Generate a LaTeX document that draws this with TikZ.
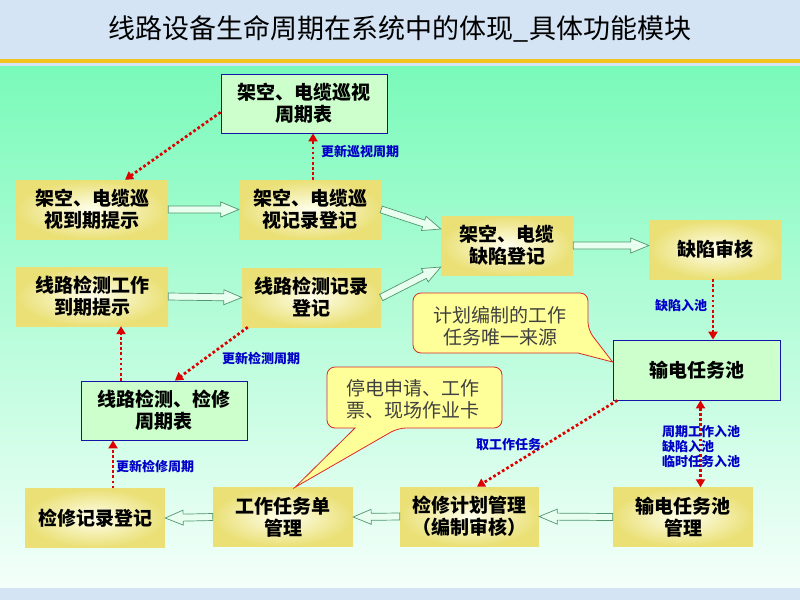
\documentclass[tikz,border=0pt]{standalone}
\usepackage{fontspec}
\setmainfont{Noto Sans CJK SC}
\usetikzlibrary{arrows.meta,calc}

\definecolor{bandblue}{RGB}{212,228,244}
\definecolor{bandgold}{RGB}{244,196,30}
\definecolor{topgreen}{RGB}{122,250,186}
\definecolor{lowgreen}{RGB}{244,255,250}
\definecolor{boxedge}{RGB}{234,224,118}
\definecolor{boxcore}{RGB}{255,255,238}
\definecolor{tablefill}{RGB}{204,255,204}
\definecolor{tableline}{RGB}{20,20,170}
\definecolor{dotred}{RGB}{220,0,0}
\definecolor{notefill}{RGB}{255,255,153}
\definecolor{noteline}{RGB}{220,40,40}
\definecolor{pipeline}{RGB}{80,150,110}
\definecolor{pipefill}{RGB}{232,255,240}
\definecolor{tagblue}{RGB}{0,0,200}

\tikzset{
  stepbox/.style={shade, inner color=boxcore, outer color=boxedge, minimum height=59pt,
    align=center, inner sep=0pt, font=\fontsize{19}{22}\selectfont\bfseries},
  tablebox/.style={draw=tableline, fill=tablefill, line width=0.8pt, minimum height=59pt,
    align=center, inner sep=0pt, font=\fontsize{19}{22}\selectfont\bfseries},
  update/.style={draw=dotred, line width=2.7pt, dash pattern=on 2.7pt off 2.4pt,
    >={Triangle[length=8pt,width=9pt]}, ->},
  tag/.style={text=tagblue, inner sep=0pt, align=left, font=\fontsize{13}{15}\selectfont\bfseries},
  pipe/.style={draw=pipeline, fill=pipefill, line width=0.7pt, line join=miter},
  note/.style={draw=noteline, fill=notefill, line width=0.8pt},
  notetext/.style={text=black!75, inner sep=0pt, align=center, font=\fontsize{19}{22}\selectfont}
}

% hollow block arrow between two points
\newcommand\blockarrow[2]{%
  \coordinate (ba-s) at (#1);
  \coordinate (ba-e) at (#2);
  \coordinate (ba-h) at ($(ba-e)!18pt!(ba-s)$);
  \draw[pipe] ($(ba-s)!3.5pt!90:(ba-e)$) -- ($(ba-h)!3.5pt!-90:(ba-s)$)
    -- ($(ba-h)!7.5pt!-90:(ba-s)$) -- (ba-e) -- ($(ba-h)!7.5pt!90:(ba-s)$)
    -- ($(ba-h)!3.5pt!90:(ba-s)$) -- ($(ba-s)!3.5pt!-90:(ba-e)$) -- cycle;}

\begin{document}
\begin{tikzpicture}[x=1pt,y=-1pt]
\useasboundingbox (0,0) rectangle (800,600);
% background
\fill[bandblue] (0,0) rectangle (800,600);
\shade[top color=topgreen, bottom color=lowgreen] (0,66) rectangle (800,587);
\fill[bandgold] (0,59) rectangle (800,63);
\node (title) at (400,29) {\fontsize{27}{30}\selectfont 线路设备生命周期在系统中的体现\_具体功能模块};

% boxes
\node[tablebox, minimum width=166pt] (patrolTable) at (304,103.5) {架空、电缆巡视\\周期表};
\node[stepbox, minimum width=152pt] (patrolDue) at (92,209.5) {架空、电缆巡\\视到期提示};
\node[stepbox, minimum width=142pt] (patrolRec) at (310,209.5) {架空、电缆巡\\视记录登记};
\node[stepbox, minimum width=152pt] (testDue) at (92,296.5) {线路检测工作\\到期提示};
\node[stepbox, minimum width=139pt] (testRec) at (311.5,297.5) {线路检测记录\\登记};
\node[stepbox, minimum width=132pt] (defectReg) at (507,245.5) {架空、电缆\\缺陷登记};
\node[stepbox, minimum width=132pt] (defectAudit) at (715,249.5) {缺陷审核};
\node[tablebox, minimum width=167pt, minimum height=60pt] (pool) at (696.5,370) {输电任务池};
\node[tablebox, minimum width=166pt] (testTable) at (164,410.5) {线路检测、检修\\周期表};
\node[stepbox, minimum width=140pt] (repairRec) at (95,518) {检修记录登记};
\node[stepbox, minimum width=140pt] (ticket) at (283,517) {工作任务单\\管理};
\node[stepbox, minimum width=139pt] (plan) at (469.5,516.5) {检修计划管理\\（编制审核）};
\node[stepbox, minimum width=140pt] (poolMgr) at (683,517) {输电任务池\\管理};

% block arrows
\blockarrow{patrolDue.east}{patrolRec.west}
\blockarrow{testDue.east}{testRec.west}
\blockarrow{patrolRec.east}{defectReg.166}
\blockarrow{testRec.east}{defectReg.198}
\blockarrow{defectReg.east}{defectReg.east -| defectAudit.west}
\blockarrow{poolMgr.west}{plan.east}
\blockarrow{plan.west}{ticket.east}
\blockarrow{ticket.west}{repairRec.east}

% dotted update arrows
\draw[update] (patrolTable.186) -- (patrolDue.42);
\draw[update] ([xshift=3pt]patrolRec.north) -- ([xshift=3pt]patrolRec.north |- patrolTable.south);
\draw[update] ([xshift=-43pt]testTable.north) -- ([xshift=-43pt]testTable.north |- testDue.south);
\draw[update] (testRec.205) -- (testTable.70);
\draw[update] ([xshift=18pt]repairRec.north) -- ([xshift=18pt]repairRec.north |- testTable.south);
\draw[update] ([xshift=-2pt]defectAudit.south) -- ([xshift=-2pt]defectAudit.south |- pool.north);
\draw[update, <->] ([xshift=4pt]pool.south) -- ([xshift=4pt]pool.south |- poolMgr.north);
\draw[update] (pool.201) -- (plan.76);

% tags
\node[tag, anchor=west] (tagPatrol) at (321,152) {更新巡视周期};
\node[tag, anchor=west] (tagTest) at (222,358) {更新检测周期};
\node[tag, anchor=west] (tagRepair) at (116,466) {更新检修周期};
\node[tag, anchor=west] (tagDefect) at (655,306) {缺陷入池};
\node[tag, anchor=west] (tagPool) at (662,447) {周期工作入池\\缺陷入池\\临时任务入池};
\node[tag, anchor=west] (tagFetch) at (476,445) {取工作任务};

% callouts
\draw[note] (413,323) [rounded corners=8pt] |- (588,293) -- (588,330) [sharp corners]
  -- ([yshift=8pt]pool.west) -- (578,353) [rounded corners=8pt] -| (413,323) -- cycle;
\node[notetext] (noteSource) at (500,326) {计划编制的工作\\任务唯一来源};
\draw[note] (327,398) [rounded corners=8pt] |- (502,367) |- (398,428) [sharp corners]
  -- ([xshift=12pt]ticket.north) -- (355,428) [rounded corners=8pt] -| (327,398) -- cycle;
\node[notetext] (noteTicket) at (413,399) {停电申请、工作\\票、现场作业卡};
\end{tikzpicture}
\end{document}
